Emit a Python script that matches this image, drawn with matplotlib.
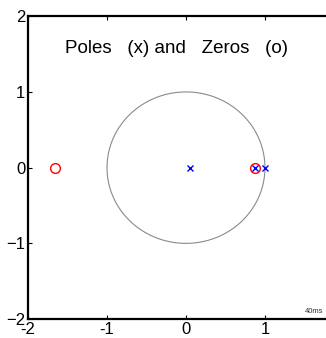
import numpy as np
import matplotlib
matplotlib.use("Agg")
import matplotlib.pyplot as plt

plt.rcParams["font.family"] = ["Liberation Sans", "DejaVu Sans"]

zeros_re = [-1.66, 0.87]
zeros_im = [0.0, 0.0]
poles_re = [0.05, 0.87, 1.0]
poles_im = [0.0, 0.0, 0.0]
ticks = [-2, -1, 0, 1, 2]
xtick_labels = ["-2", "-1", "0", "1", ""]  # "2" falls outside the figure

fig = plt.figure(figsize=(3.26, 3.38), dpi=100)
ax = fig.add_axes([0.086, 0.056, 0.969, 0.896])

t = np.linspace(0, 2 * np.pi, 400)
ax.plot(np.cos(t), np.sin(t), color="#8a8a8a", linewidth=0.8)
ax.plot(zeros_re, zeros_im, "o", mfc="none", mec="red", ms=7, mew=1.0)
ax.plot(poles_re, poles_im, "x", color="blue", ms=4.5, mew=1.0)

ax.text(-1.53, 1.57, "Poles   (x) and   Zeros   (o)", fontsize=13.5,
        ha="left", va="center")
ax.text(1.50, -1.95, "40ms", fontsize=5.5, ha="left", va="bottom", color="#333333")

ax.set_xlim(-2, 2)
ax.set_ylim(-2, 2)
ax.set_xticks(ticks)
ax.set_xticklabels(xtick_labels)
ax.set_yticks(ticks)
ax.tick_params(direction="in", length=3, width=0.8, labelsize=12,
               top=True, right=True, pad=2)
for s in ax.spines.values():
    s.set_linewidth(1.6)

fig.savefig("out.png", dpi=100)
